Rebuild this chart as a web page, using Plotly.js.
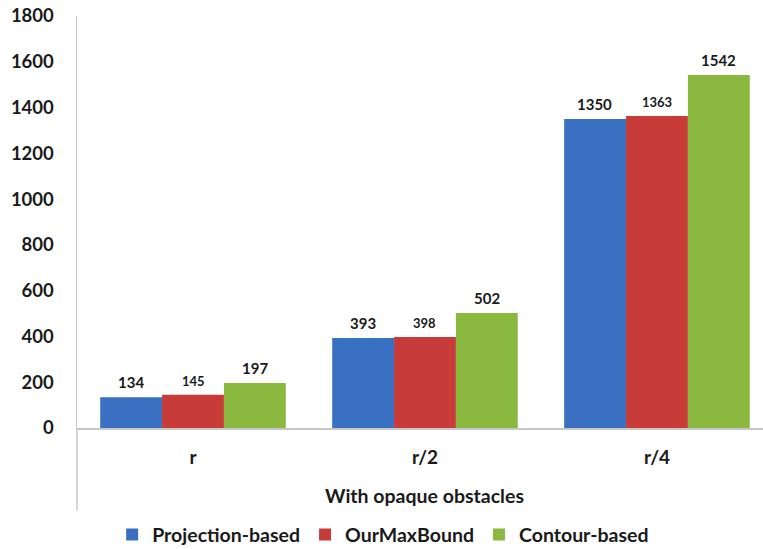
<!DOCTYPE html>
<html><head><meta charset="utf-8">
<script src="https://cdn.plot.ly/plotly-3.0.1.min.js"></script>
<style>html,body{margin:0;padding:0;background:#fff;}#chart{width:763px;height:549px;}</style>
</head><body><div id="chart"></div>
<script>
const categories = ['r', 'r/2', 'r/4'];
const seriesNames = ['Projection-based', 'OurMaxBound', 'Contour-based'];
const projectionBased = [134, 393, 1350];
const ourMaxBound = [145, 398, 1363];
const contourBased = [197, 502, 1542];
const yTicks = [0, 200, 400, 600, 800, 1000, 1200, 1400, 1600, 1800];
const xTitle = 'With opaque obstacles';

const colors = ['#3a70c2', '#c73b39', '#8bb93f'];
const labelSizes = [15, 13, 15];
const allValues = [projectionBased, ourMaxBound, contourBased];
const FONT = 'Lato, "Open Sans", sans-serif';

const traces = allValues.map((vals, i) => ({
  type: 'bar', name: seriesNames[i], x: categories, y: vals,
  marker: {color: colors[i], line: {width: 0}},
  hoverinfo: 'none'
}));

const barPx = 62;
const annotations = [];
allValues.forEach((vals, i) => {
  vals.forEach((v, j) => {
    annotations.push({
      x: categories[j], y: v, xref: 'x', yref: 'y', text: String(v), showarrow: false,
      xanchor: 'center', yanchor: 'bottom', xshift: (i - 1) * barPx, yshift: 4,
      font: {family: FONT, size: labelSizes[i], color: '#1a1a1a', weight: 'bold'}
    });
  });
});
annotations.push({
  text: xTitle, xref: 'paper', yref: 'paper', x: 0.507, y: -0.163,
  xanchor: 'center', yanchor: 'middle', showarrow: false,
  font: {family: FONT, size: 19.5, color: '#1a1a1a', weight: 'bold'}
});

const layout = {
  width: 763, height: 549,
  margin: {l: 77, r: 0, t: 16, b: 121, autoexpand: false},
  paper_bgcolor: '#fff', plot_bgcolor: '#fff',
  barmode: 'group', bargap: 0.2, bargroupgap: 0,
  showlegend: true,
  legend: {orientation: 'h', xref: 'container', yref: 'container', x: 0.147, y: 0.026,
    xanchor: 'left', yanchor: 'middle',
    font: {family: FONT, size: 19.5, color: '#1a1a1a', weight: 'bold'}, traceorder: 'normal'},
  xaxis: {
    type: 'category', range: [-0.5, 2.457], showgrid: false, zeroline: false,
    showline: true, linecolor: '#c8c8c8', linewidth: 1.5, automargin: false,
    ticks: '', ticklabelstandoff: 12,
    tickfont: {family: FONT, size: 19, color: '#1a1a1a', weight: 'bold'}, fixedrange: true
  },
  yaxis: {
    range: [0, 1800], tickvals: yTicks, showgrid: false, zeroline: false,
    showline: true, linecolor: '#c8c8c8', linewidth: 1.5, automargin: false,
    ticks: '', ticklabelstandoff: 18,
    tickfont: {family: FONT, size: 18.5, color: '#1a1a1a', weight: 'bold'}, fixedrange: true
  },
  shapes: [{type: 'line', xref: 'paper', yref: 'paper', x0: 0, x1: 0, y0: 0, y1: -0.2,
    line: {color: '#c8c8c8', width: 1.5}}],
  annotations: annotations
};
Plotly.newPlot('chart', traces, layout, {displayModeBar: false, staticPlot: true});
</script></body></html>
